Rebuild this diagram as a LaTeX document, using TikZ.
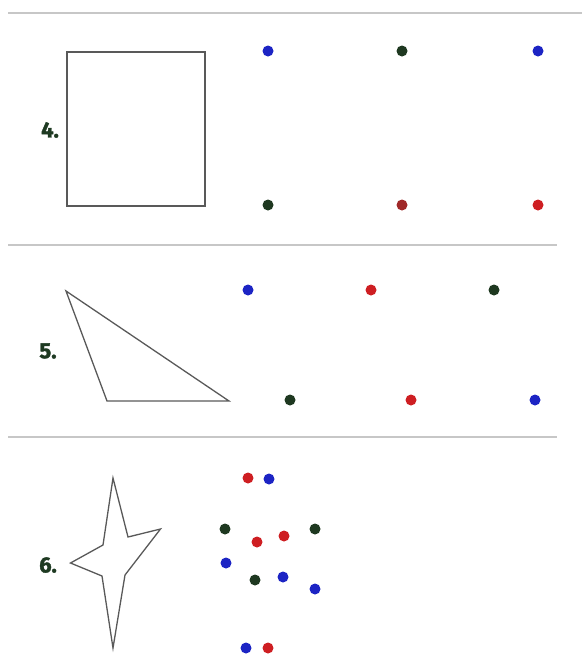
\documentclass[tikz,border=0pt]{standalone}
\usepackage{fontspec}
\setsansfont[BoldFeatures={FakeBold=1.6}]{Fira Sans}
\usepackage{tikz}
\usetikzlibrary{positioning}
\definecolor{dotblue}{RGB}{28,36,196}
\definecolor{dotgreen}{RGB}{30,56,32}
\definecolor{dotred}{RGB}{206,30,34}
\definecolor{dotdark}{RGB}{160,40,40}
\definecolor{numgreen}{RGB}{30,58,34}

\begin{document}
\begin{tikzpicture}[x=1pt, y=-1pt,
  every node/.style={inner sep=0pt},
  sep/.style={draw=black!22, line width=2pt},
  figline/.style={draw=black!65, line width=1.3pt, line join=miter},
  num/.style={font=\sffamily\bfseries\fontsize{22}{24}\selectfont, text=numgreen},
  dot/.style={circle, minimum size=11pt, fill=#1}
]
  \useasboundingbox (0,0) rectangle (582,659);

  % separators
  \draw[sep] (8,12.5) -- (582,12.5);
  \draw[sep] (8,245) -- (557,245);
  \draw[sep] (8,437) -- (557,437);

  % 4.
  \node[num] (n4) at (50,130) {4.};
  \draw[figline] (67,52) rectangle (205,206);
  \node[dot=dotblue]  (d4a) at (268,51)  {};
  \node[dot=dotgreen] (d4b) at (402,51)  {};
  \node[dot=dotblue]  (d4c) at (538,51)  {};
  \node[dot=dotgreen] (d4d) at (268,205) {};
  \node[dot=dotdark]  (d4e) at (402,205) {};
  \node[dot=dotred]   (d4f) at (538,205) {};

  % 5.
  \node[num] (n5) at (48,351) {5.};
  \draw[figline] (66,291) -- (107,401) -- (229,401) -- cycle;
  \node[dot=dotblue]  (d5a) at (248,290) {};
  \node[dot=dotred]   (d5b) at (371,290) {};
  \node[dot=dotgreen] (d5c) at (494,290) {};
  \node[dot=dotgreen] (d5d) at (290,400) {};
  \node[dot=dotred]   (d5e) at (411,400) {};
  \node[dot=dotblue]  (d5f) at (535,400) {};

  % 6.
  \node[num] (n6) at (48,565) {6.};
  \draw[figline] (113,478) -- (128,537) -- (160.5,529) -- (125,575)
    -- (113,648) -- (102,576) -- (70.5,563) -- (103,545) -- cycle;
  \node[dot=dotred]   (d6a) at (248,478) {};
  \node[dot=dotblue]  (d6b) at (269,479) {};
  \node[dot=dotgreen] (d6c) at (225,529) {};
  \node[dot=dotred]   (d6d) at (257,542) {};
  \node[dot=dotred]   (d6e) at (284,536) {};
  \node[dot=dotgreen] (d6f) at (315,529) {};
  \node[dot=dotblue]  (d6g) at (226,563) {};
  \node[dot=dotgreen] (d6h) at (255,580) {};
  \node[dot=dotblue]  (d6i) at (283,577) {};
  \node[dot=dotblue]  (d6j) at (315,589) {};
  \node[dot=dotblue]  (d6k) at (246,648) {};
  \node[dot=dotred]   (d6l) at (268,648) {};
\end{tikzpicture}
\end{document}
